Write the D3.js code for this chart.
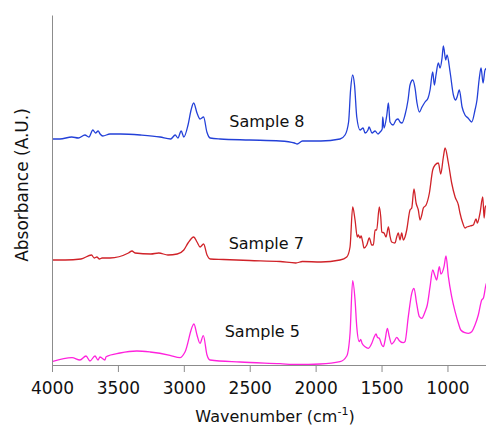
<!DOCTYPE html>
<html>
<head>
<meta charset="utf-8">
<script src="https://cdn.jsdelivr.net/npm/d3@7"></script>
<style>
  html, body { margin: 0; padding: 0; background: #fff; }
  svg { display: block; font-family: "DejaVu Sans", sans-serif; }
</style>
</head>
<body>
<svg id="chart" width="486" height="427"></svg>
<script>
// FTIR absorbance spectra, [wavenumber (cm^-1), absorbance (offset, A.U.)]
const sample8 = [
  [4000,2.26],[3940,2.26],[3850,2.28],[3800,2.27],[3750,2.30],[3720,2.28],[3690,2.35],
  [3670,2.32],[3650,2.34],[3635,2.31],[3615,2.29],[3560,2.31],[3480,2.31],[3330,2.30],
  [3180,2.28],[3100,2.26],[3065,2.30],[3045,2.27],[3020,2.34],[3000,2.28],[2968,2.40],
  [2945,2.55],[2925,2.62],[2900,2.52],[2877,2.46],[2850,2.48],[2825,2.33],[2800,2.27],
  [2725,2.26],[2500,2.25],[2270,2.24],[2160,2.22],[2140,2.21],[2100,2.24],[1960,2.24],
  [1815,2.26],[1777,2.30],[1750,2.43],[1735,2.75],[1719,2.90],[1705,2.80],[1688,2.48],
  [1663,2.35],[1640,2.37],[1625,2.32],[1603,2.35],[1595,2.38],[1572,2.32],[1549,2.34],
  [1527,2.31],[1511,2.33],[1495,2.36],[1491,2.48],[1481,2.37],[1460,2.50],[1448,2.62],
  [1436,2.43],[1413,2.40],[1390,2.45],[1375,2.46],[1360,2.43],[1345,2.42],[1322,2.50],
  [1299,2.65],[1284,2.80],[1263,2.85],[1246,2.77],[1231,2.62],[1213,2.53],[1193,2.58],
  [1170,2.63],[1147,2.67],[1132,2.75],[1112,2.93],[1099,2.80],[1087,2.90],[1069,3.02],
  [1056,2.97],[1041,3.07],[1031,3.19],[1013,3.05],[1003,3.10],[980,2.93],[955,2.70],
  [937,2.65],[927,2.68],[910,2.75],[889,2.58],[867,2.50],[844,2.47],[816,2.43],
  [791,2.55],[776,2.65],[760,2.85],[745,2.97],[730,2.82],[715,2.95],[700,2.97]
];

const sample7 = [
  [4000,1.05],[3900,1.05],[3780,1.06],[3700,1.10],[3680,1.07],[3660,1.08],[3640,1.06],
  [3620,1.07],[3560,1.07],[3420,1.12],[3393,1.14],[3370,1.12],[3250,1.11],[3190,1.12],
  [3120,1.10],[3050,1.11],[3000,1.15],[2968,1.22],[2925,1.28],[2900,1.23],[2877,1.18],
  [2850,1.21],[2824,1.10],[2800,1.06],[2700,1.055],[2500,1.045],[2270,1.035],[2150,1.02],
  [2100,1.035],[1960,1.03],[1815,1.05],[1764,1.08],[1739,1.18],[1719,1.58],[1701,1.45],
  [1684,1.28],[1676,1.30],[1663,1.27],[1655,1.29],[1643,1.23],[1633,1.17],[1612,1.20],
  [1593,1.27],[1574,1.20],[1562,1.20],[1549,1.35],[1537,1.35],[1517,1.58],[1506,1.48],
  [1498,1.33],[1481,1.32],[1466,1.28],[1448,1.38],[1436,1.29],[1423,1.23],[1398,1.22],
  [1385,1.28],[1373,1.32],[1360,1.25],[1347,1.32],[1335,1.25],[1322,1.28],[1309,1.35],
  [1284,1.55],[1271,1.57],[1254,1.76],[1238,1.62],[1221,1.55],[1208,1.45],[1195,1.50],
  [1183,1.57],[1162,1.60],[1137,1.72],[1112,1.95],[1094,2.00],[1069,2.02],[1051,1.91],
  [1031,2.08],[1018,2.17],[993,2.02],[968,1.82],[942,1.68],[917,1.60],[905,1.52],
  [884,1.42],[867,1.37],[854,1.38],[829,1.39],[804,1.40],[783,1.46],[773,1.42],
  [753,1.52],[732,1.68],[722,1.47],[713,1.58],[700,1.60]
];

const sample5 = [
  [4000,0.033],[3848,0.073],[3788,0.05],[3742,0.09],[3712,0.04],[3674,0.09],[3651,0.05],
  [3636,0.08],[3598,0.05],[3590,0.083],[3484,0.12],[3357,0.14],[3256,0.13],[3105,0.097],
  [3029,0.073],[2991,0.13],[2923,0.41],[2900,0.30],[2877,0.217],[2852,0.293],[2824,0.10],
  [2801,0.05],[2573,0.03],[2270,0.013],[2141,0.005],[1967,0.01],[1815,0.033],[1764,0.09],
  [1739,0.317],[1719,0.843],[1701,0.65],[1688,0.383],[1669,0.233],[1658,0.257],[1648,0.217],
  [1625,0.183],[1600,0.167],[1574,0.217],[1557,0.277],[1542,0.31],[1531,0.277],[1517,0.267],
  [1498,0.20],[1486,0.183],[1473,0.25],[1456,0.367],[1441,0.283],[1423,0.21],[1405,0.233],
  [1385,0.277],[1365,0.243],[1335,0.223],[1322,0.233],[1297,0.483],[1271,0.717],[1254,0.767],
  [1234,0.617],[1213,0.483],[1195,0.467],[1170,0.533],[1153,0.60],[1132,0.783],[1112,0.95],
  [1097,0.90],[1082,0.85],[1062,0.983],[1049,0.91],[1026,0.983],[1011,1.09],[993,0.883],
  [968,0.683],[942,0.533],[917,0.417],[899,0.35],[867,0.323],[841,0.317],[816,0.333],
  [791,0.40],[766,0.50],[740,0.65],[728,0.667],[708,0.80],[700,0.83]
];

const seriesNames = ["Sample 8", "Sample 7", "Sample 5"];
const seriesColors = ["#2340d8", "#d02228", "#ff22dd"];
// label anchor: [wavenumber at left edge of text, absorbance at baseline]
const labelPos = [[2655, 2.38], [2660, 1.16], [2690, 0.28]];
const xTicks = [4000, 3500, 3000, 2500, 2000, 1500, 1000];

const svg = d3.select("#chart");
const x = d3.scaleLinear().domain([4000, 700]).range([52, 487]);
const y = d3.scaleLinear().domain([0, 3.5]).range([365, 15]);

svg.append("defs").append("clipPath").attr("id", "plot")
  .append("rect").attr("x", 52).attr("y", 0).attr("width", 440).attr("height", 366);

const line = d3.line()
  .x(d => x(d[0]))
  .y(d => y(d[1]))
  .curve(d3.curveMonotoneX);

const data = [sample8, sample7, sample5];
const g = svg.append("g").attr("clip-path", "url(#plot)");
g.selectAll("path")
  .data(data)
  .join("path")
  .attr("d", line)
  .attr("fill", "none")
  .attr("stroke", (d, i) => seriesColors[i])
  .attr("stroke-width", 1.3)
  .attr("stroke-linejoin", "round");

// series labels
svg.selectAll("text.series")
  .data(seriesNames)
  .join("text")
  .attr("class", "series")
  .attr("x", (d, i) => x(labelPos[i][0]))
  .attr("y", (d, i) => y(labelPos[i][1]))
  .attr("font-size", 16)
  .attr("fill", "#111")
  .text(d => d);

// axes
const axisColor = "#8c8c8c";
const xAxis = svg.append("g")
  .attr("transform", "translate(0,365)")
  .call(d3.axisBottom(x).tickValues(xTicks).tickSizeOuter(0).tickSize(7).tickPadding(10).tickFormat(d3.format("d")));
xAxis.select(".domain").attr("stroke", axisColor);
xAxis.selectAll(".tick line").attr("stroke", axisColor);
xAxis.selectAll(".tick text")
  .attr("fill", "#111")
  .attr("font-size", 17)
  .attr("font-family", "DejaVu Sans, sans-serif");

const yAxis = svg.append("g")
  .attr("transform", "translate(52,0)")
  .call(d3.axisLeft(y).tickValues([]).tickSizeOuter(0));
yAxis.select(".domain").attr("stroke", axisColor);

// axis titles
const xt = svg.append("text")
  .attr("x", 275)
  .attr("y", 422)
  .attr("text-anchor", "middle")
  .attr("font-size", 16)
  .attr("fill", "#111");
xt.append("tspan").text("Wavenumber (cm");
xt.append("tspan").attr("font-size", 11).attr("dy", -7).text("-1");
xt.append("tspan").attr("dy", 7).text(")");

svg.append("text")
  .attr("transform", "translate(28,185) rotate(-90)")
  .attr("text-anchor", "middle")
  .attr("font-size", 17)
  .attr("fill", "#111")
  .text("Absorbance (A.U.)");
</script>
</body>
</html>
